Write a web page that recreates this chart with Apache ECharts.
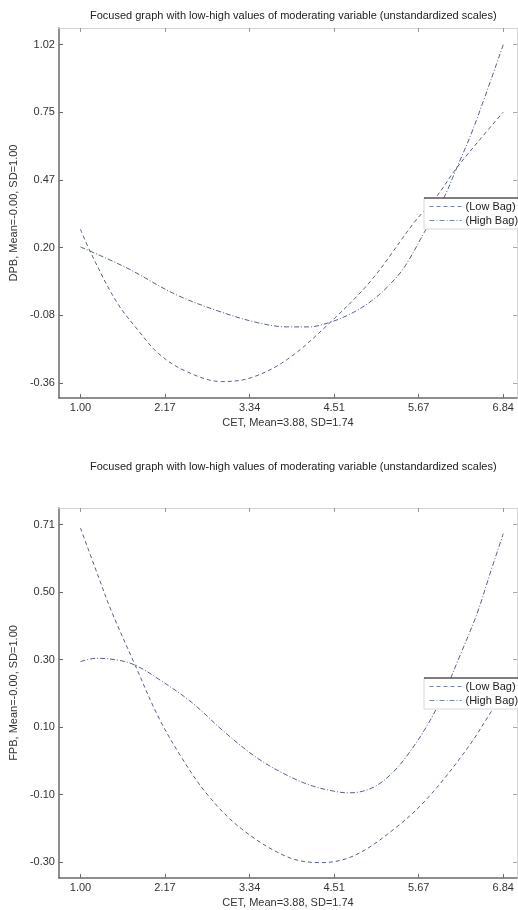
<!DOCTYPE html>
<html><head><meta charset="utf-8">
<script src="https://cdn.jsdelivr.net/npm/echarts@6/dist/echarts.min.js"></script>
<style>html,body{margin:0;padding:0;background:#fff}#c{width:518px;height:910px}</style>
</head><body><div id="c"></div>
<script>
var titleText = 'Focused graph with low-high values of moderating variable (unstandardized scales)';
var xName = 'CET, Mean=3.88, SD=1.74';
var yNameTop = 'DPB, Mean=-0.00, SD=1.00';
var yNameBottom = 'FPB, Mean=-0.00, SD=1.00';
var legendNames = ['(Low Bag)', '(High Bag)'];

var xTickValues = [1.00, 2.168, 3.336, 4.504, 5.672, 6.84];
var xTickLabels = ['1.00', '2.17', '3.34', '4.51', '5.67', '6.84'];
var yTopTickValues = [-0.36, -0.084, 0.192, 0.468, 0.744, 1.02];
var yTopTickLabels = ['-0.36', '-0.08', '0.20', '0.47', '0.75', '1.02'];
var yBotTickValues = [-0.30, -0.098, 0.104, 0.306, 0.508, 0.71];
var yBotTickLabels = ['-0.30', '-0.10', '0.10', '0.30', '0.50', '0.71'];

// Top panel (DPB)
var topLowX  = [1.00, 1.13, 1.49, 1.81, 2.08, 2.45, 2.95, 3.36, 3.86, 4.47, 5.02, 5.61, 5.93, 6.18, 6.48, 6.84];
var topLowY  = [0.267, 0.179, -0.025, -0.150, -0.240, -0.311, -0.354, -0.338, -0.263, -0.107, 0.060, 0.295, 0.405, 0.511, 0.620, 0.745];
var topHighX = [1.00, 1.63, 2.31, 2.90, 3.45, 3.86, 4.15, 4.45, 4.75, 5.02, 5.25, 5.47, 5.75, 6.02, 6.18, 6.43, 6.84];
var topHighY = [0.195, 0.111, 0.002, -0.066, -0.114, -0.131, -0.131, -0.112, -0.075, -0.025, 0.035, 0.111, 0.255, 0.396, 0.505, 0.681, 1.02];

// Bottom panel (FPB)
var botLowX  = [1.00, 1.25, 1.43, 1.76, 2.07, 2.39, 2.76, 3.22, 3.86, 4.33, 4.79, 5.34, 5.79, 6.34, 6.70, 6.84];
var botLowY  = [0.700, 0.553, 0.450, 0.287, 0.137, 0.015, -0.100, -0.200, -0.285, -0.302, -0.280, -0.200, -0.110, 0.039, 0.159, 0.205];
var botHighX = [1.00, 1.22, 1.53, 1.76, 2.07, 2.53, 2.99, 3.45, 3.86, 4.20, 4.50, 4.70, 4.90, 5.10, 5.30, 5.50, 5.79, 6.02, 6.25, 6.48, 6.66, 6.84];
var botHighY = [0.300, 0.310, 0.304, 0.289, 0.249, 0.179, 0.089, 0.010, -0.041, -0.072, -0.088, -0.093, -0.088, -0.070, -0.035, 0.015, 0.109, 0.205, 0.322, 0.445, 0.565, 0.683];

function pairs(xs, ys) { return xs.map(function (x, i) { return [x, ys[i]]; }); }
function lookup(vals, labels) {
  return function (v) {
    for (var i = 0; i < vals.length; i++) if (Math.abs(vals[i] - v) < 1e-6) return labels[i];
    return '';
  };
}

var FONT = 'Liberation Sans, Arial, sans-serif';
var lineColor = '#56618a';
var axisDark = '#6a6a6a';
var frameLight = '#d4d4d4';

function xAxes(gridIndex) {
  return [{
    type: 'value', gridIndex: gridIndex, position: 'bottom', min: 0.703, max: 7.03,
    name: xName, nameLocation: 'middle', nameGap: 19,
    nameTextStyle: { fontFamily: FONT, fontSize: 11, color: '#333' },
    axisLine: { show: true, onZero: false, lineStyle: { color: axisDark, width: 1.5 } },
    axisTick: { show: true, inside: true, length: 4, customValues: xTickValues, lineStyle: { color: axisDark } },
    axisLabel: { customValues: xTickValues, formatter: lookup(xTickValues, xTickLabels), margin: 4,
      fontFamily: FONT, fontSize: 11, color: '#333' },
    splitLine: { show: false }
  }, {
    type: 'value', gridIndex: gridIndex, position: 'top', min: 0.703, max: 7.03,
    axisLine: { show: true, onZero: false, lineStyle: { color: frameLight, width: 1 } },
    axisTick: { show: true, inside: true, length: 4, customValues: xTickValues, lineStyle: { color: '#999' } },
    axisLabel: { show: false },
    splitLine: { show: false }
  }];
}
function yAxes(gridIndex, min, max, vals, labels, name) {
  return [{
    type: 'value', gridIndex: gridIndex, position: 'left', min: min, max: max,
    name: name, nameLocation: 'middle', nameGap: 36,
    nameTextStyle: { fontFamily: FONT, fontSize: 11, color: '#333' },
    axisLine: { show: true, onZero: false, lineStyle: { color: axisDark, width: 1.5 } },
    axisTick: { show: true, inside: true, length: 4, customValues: vals, lineStyle: { color: axisDark } },
    axisLabel: { customValues: vals, formatter: lookup(vals, labels), margin: 4,
      fontFamily: FONT, fontSize: 11, color: '#333' },
    splitLine: { show: false }
  }, {
    type: 'value', gridIndex: gridIndex, position: 'right', min: min, max: max,
    axisLine: { show: true, onZero: false, lineStyle: { color: frameLight, width: 1 } },
    axisTick: { show: true, inside: true, length: 4, customValues: vals, lineStyle: { color: '#aaa' } },
    axisLabel: { show: false },
    splitLine: { show: false }
  }];
}

function lineSeries(name, xi, yi, data, dash) {
  return {
    type: 'line', name: name, xAxisIndex: xi, yAxisIndex: yi, data: data,
    symbol: 'none', smooth: 0.35, silent: true,
    lineStyle: { color: lineColor, width: 1, type: dash },
    itemStyle: { color: lineColor }
  };
}
var dashLow = [4, 3];
var dashHigh = [5, 2, 1, 2];

function legendBlock(top) {
  return {
    orient: 'vertical', left: 424, top: top, itemWidth: 32, itemHeight: 10, itemGap: 3,
    padding: [3, 2, 3, 5], backgroundColor: '#fff', borderColor: '#d8d8d8', borderWidth: 1,
    data: legendNames, selectedMode: false,
    itemStyle: { opacity: 0 },
    lineStyle: { width: 1, color: '#7a84a4' },
    textStyle: { fontFamily: FONT, fontSize: 11, color: '#222', padding: [0, 0, 0, -1] }
  };
}

var chart = echarts.init(document.getElementById('c'), null, { renderer: 'canvas' });
var x0 = xAxes(0), x1 = xAxes(1);
var y0 = yAxes(0, -0.421, 1.088, yTopTickValues, yTopTickLabels, yNameTop);
var y1 = yAxes(1, -0.348, 0.760, yBotTickValues, yBotTickLabels, yNameBottom);

chart.setOption({
  animation: false,
  backgroundColor: '#fff',
  title: [
    { text: titleText, left: 90, top: 10, textStyle: { fontFamily: FONT, fontSize: 11, fontWeight: 'normal', color: '#222' }, padding: 0 },
    { text: titleText, left: 90, top: 461, textStyle: { fontFamily: FONT, fontSize: 11, fontWeight: 'normal', color: '#222' }, padding: 0 }
  ],
  grid: [
    { left: 56, top: 28, right: 1, height: 370, containLabel: false },
    { left: 56, top: 508, right: 1, height: 370, containLabel: false }
  ],
  xAxis: [x0[0], x0[1], x1[0], x1[1]],
  yAxis: [y0[0], y0[1], y1[0], y1[1]],
  legend: [legendBlock(198), legendBlock(678)],
  series: [
    lineSeries(legendNames[0], 0, 0, pairs(topLowX, topLowY), dashLow),
    lineSeries(legendNames[1], 0, 0, pairs(topHighX, topHighY), dashHigh),
    lineSeries(legendNames[0], 2, 2, pairs(botLowX, botLowY), dashLow),
    lineSeries(legendNames[1], 2, 2, pairs(botHighX, botHighY), dashHigh)
  ],
  graphic: [
    { type: 'line', shape: { x1: 424, y1: 198, x2: 518, y2: 198 }, style: { stroke: '#111', lineWidth: 1.2 }, z: 100 },
    { type: 'line', shape: { x1: 424, y1: 678, x2: 518, y2: 678 }, style: { stroke: '#111', lineWidth: 1.2 }, z: 100 }
  ]
});
</script>
</body></html>
